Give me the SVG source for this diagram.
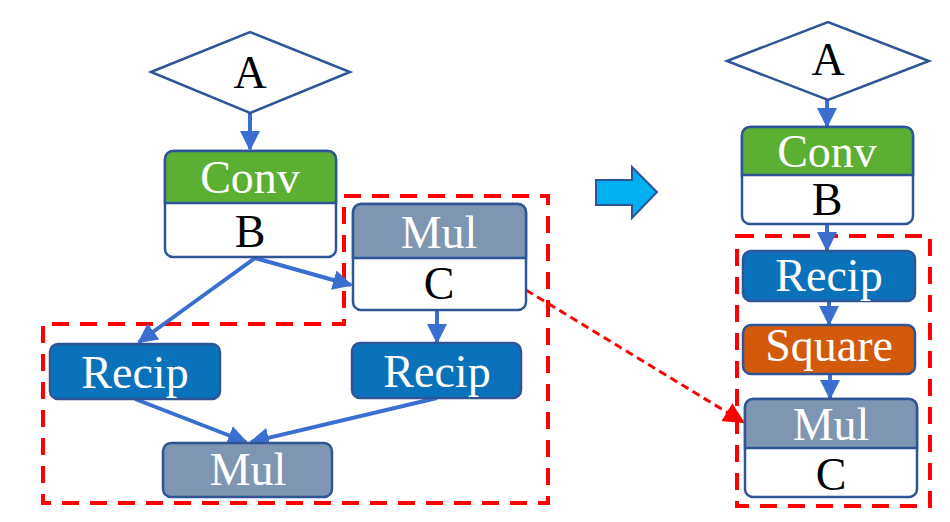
<svg xmlns="http://www.w3.org/2000/svg" width="950" height="522" viewBox="0 0 950 522">
<defs>
<style>
.t{font-family:"Liberation Serif","Times New Roman",serif;font-size:46px;text-anchor:middle}
.w{fill:#ffffff}
.k{fill:#000000}
.bd{stroke:#2F5597;stroke-width:2.5}
.con{stroke:#3A6FD0;stroke-width:4;fill:none;marker-end:url(#ah)}
.red{stroke:#FF0000;stroke-width:4;fill:none;stroke-dasharray:17 11}
</style>
<marker id="ah" viewBox="0 0 10 10" refX="9" refY="5" markerWidth="5" markerHeight="5" orient="auto" markerUnits="strokeWidth">
<path d="M0,0 L10,5 L0,10 z" fill="#3A6FD0"/>
</marker>
<marker id="ahr" viewBox="0 0 10 10" refX="9" refY="5" markerWidth="7" markerHeight="7" orient="auto" markerUnits="strokeWidth">
<path d="M0,0 L10,5 L0,10 z" fill="#FF0000"/>
</marker>
</defs>
<rect width="950" height="522" fill="#ffffff"/>

<!-- red dashed regions -->
<g id="regions">
<path class="red" d="M344,196 L548,196 L548,503 L43,503 L43,324 L344,324 Z"/>
<rect class="red" x="737" y="236" width="193" height="270"/>
</g>

<!-- connectors -->
<g id="connectors">
<line class="con" x1="250" y1="113" x2="250" y2="149"/>
<line class="con" x1="255" y1="258" x2="351" y2="285"/>
<line class="con" x1="255" y1="258" x2="139" y2="342"/>
<line class="con" x1="437" y1="310" x2="437" y2="342"/>
<line class="con" x1="135" y1="399" x2="246" y2="442"/>
<line class="con" x1="437" y1="398" x2="251" y2="442"/>
<line class="con" x1="827" y1="100" x2="827" y2="126"/>
<line class="con" x1="827" y1="224" x2="827" y2="250"/>
<line class="con" x1="829" y1="301" x2="829" y2="324"/>
<line class="con" x1="830" y1="374" x2="830" y2="398"/>
<line x1="526" y1="290" x2="743" y2="422" stroke="#FF0000" stroke-width="3" stroke-dasharray="8 5" marker-end="url(#ahr)"/>
</g>

<!-- left graph -->
<g id="A1">
<polygon points="151,72 250,32 350,72 250,113" fill="#ffffff" class="bd"/>
<text class="t k" x="250" y="88">A</text>
</g>
<g id="Conv1">
<rect x="165" y="151" width="171" height="106" rx="8" fill="#ffffff" class="bd"/>
<path d="M173,151 H328 A8,8 0 0 1 336,159 V203 H165 V159 A8,8 0 0 1 173,151 Z" fill="#5BAF33" class="bd"/>
<text class="t w" x="250" y="193">Conv</text>
<text class="t k" x="250" y="247">B</text>
</g>
<g id="MulC1">
<rect x="353" y="204" width="173" height="106" rx="8" fill="#ffffff" class="bd"/>
<path d="M361,204 H518 A8,8 0 0 1 526,212 V258 H353 V212 A8,8 0 0 1 361,204 Z" fill="#7F96B2" class="bd"/>
<text class="t w" x="439" y="248">Mul</text>
<text class="t k" x="439" y="299">C</text>
</g>
<g id="Recip1">
<rect x="50" y="344" width="170" height="55" rx="8" fill="#0A72BA" class="bd"/>
<text class="t w" x="135" y="388">Recip</text>
</g>
<g id="Recip2">
<rect x="352" y="343" width="169" height="55" rx="8" fill="#0A72BA" class="bd"/>
<text class="t w" x="437" y="387">Recip</text>
</g>
<g id="Mul2">
<rect x="163" y="443" width="169" height="54" rx="8" fill="#7F96B2" class="bd"/>
<text class="t w" x="248" y="485">Mul</text>
</g>

<!-- block arrow -->
<g id="bigarrow">
<polygon points="596,180 632,180 632,167 657,192 632,218 632,205 596,205" fill="#00B0F0" stroke="#2F5597" stroke-width="2"/>
</g>

<!-- right graph -->
<g id="A2">
<polygon points="727,61 828,22 929,61 828,100" fill="#ffffff" class="bd"/>
<text class="t k" x="828" y="75">A</text>
</g>
<g id="Conv2">
<rect x="742" y="127" width="171" height="97" rx="8" fill="#ffffff" class="bd"/>
<path d="M750,127 H905 A8,8 0 0 1 913,135 V175 H742 V135 A8,8 0 0 1 750,127 Z" fill="#5BAF33" class="bd"/>
<text class="t w" x="827" y="167">Conv</text>
<text class="t k" x="827" y="215">B</text>
</g>
<g id="Recip3">
<rect x="743" y="251" width="172" height="50" rx="8" fill="#0A72BA" class="bd"/>
<text class="t w" x="829" y="291">Recip</text>
</g>
<g id="Square">
<rect x="743" y="325" width="172" height="49" rx="8" fill="#D25A0A" class="bd"/>
<text class="t w" x="829" y="361">Square</text>
</g>
<g id="MulC2">
<rect x="745" y="399" width="172" height="98" rx="8" fill="#ffffff" class="bd"/>
<path d="M753,399 H909 A8,8 0 0 1 917,407 V448 H745 V407 A8,8 0 0 1 753,399 Z" fill="#7F96B2" class="bd"/>
<text class="t w" x="831" y="440">Mul</text>
<text class="t k" x="831" y="490">C</text>
</g>
</svg>
